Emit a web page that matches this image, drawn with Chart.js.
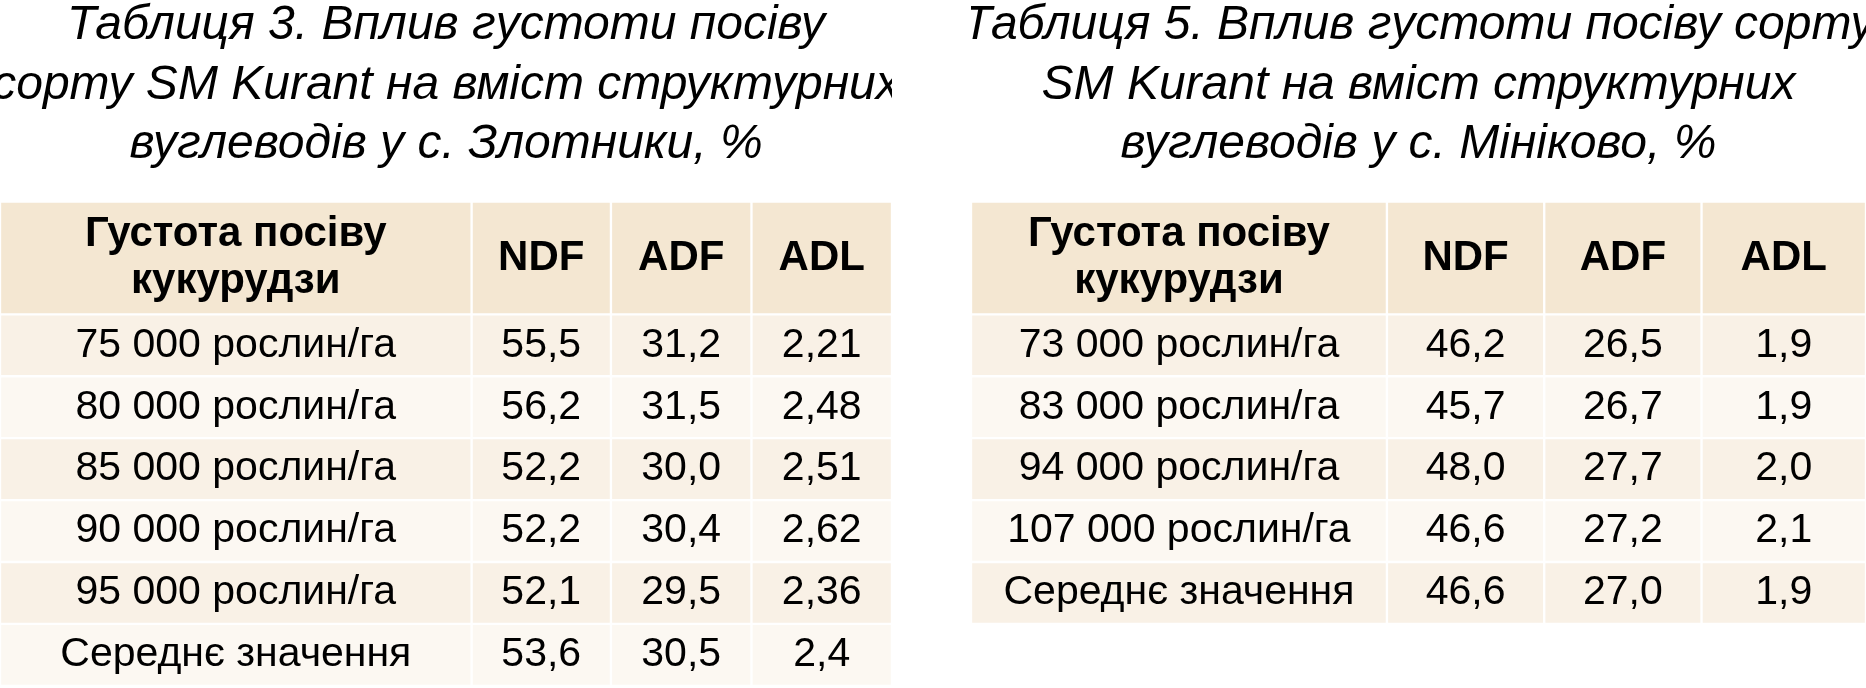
<!DOCTYPE html>
<html>
<head>
<meta charset="utf-8">
<script src="https://cdn.jsdelivr.net/npm/chart.js@4.4.1/dist/chart.umd.min.js"></script>
<style>
  html, body { margin: 0; padding: 0; background: #fff; overflow: hidden; }
  .box { position: absolute; top: 0; height: 688px; }
  #b1 { left: 0; width: 892px; }
  #b2 { left: 971px; width: 895px; }
</style>
</head>
<body>
<div class="box" id="b1"><canvas id="chart1"></canvas></div>
<div class="box" id="b2"><canvas id="chart2"></canvas></div>
<script>
const headers = ["Густота посіву\nкукурудзи", "NDF", "ADF", "ADL"];

const title1 = ["Таблиця 3. Вплив густоти посіву", "сорту SM Kurant на вміст структурних", "вуглеводів у с. Злотники, %"];
const rows1 = ["75 000 рослин/га", "80 000 рослин/га", "85 000 рослин/га", "90 000 рослин/га", "95 000 рослин/га", "Середнє значення"];
const ndf1 = ["55,5", "56,2", "52,2", "52,2", "52,1", "53,6"];
const adf1 = ["31,2", "31,5", "30,0", "30,4", "29,5", "30,5"];
const adl1 = ["2,21", "2,48", "2,51", "2,62", "2,36", "2,4"];

const title2 = ["Таблиця 5. Вплив густоти посіву сорту", "SM Kurant на вміст структурних", "вуглеводів у с. Мініково, %"];
const rows2 = ["73 000 рослин/га", "83 000 рослин/га", "94 000 рослин/га", "107 000 рослин/га", "Середнє значення"];
const ndf2 = ["46,2", "45,7", "48,0", "46,6", "46,6"];
const adf2 = ["26,5", "26,7", "27,7", "27,2", "27,0"];
const adl2 = ["1,9", "1,9", "2,0", "2,1", "1,9"];

// layout, in reference units (580 tall)
const H = 580;
const px = 688 / 580;
const tableTop = 170, headH = 95, rowH = 52.2;

function makeTable(id, title, rows, ndf, adf, adl, colEdges) {
  const cells = [headers].concat(rows.map((r, i) => [r, ndf[i], adf[i], adl[i]]));
  const tops = cells.map((_, r) => r === 0 ? tableTop : tableTop + headH + (r - 1) * rowH);
  const heights = cells.map((_, r) => r === 0 ? headH : rowH);
  const fills = cells.map((_, r) => r === 0 ? "#F4E7D2" : (r % 2 ? "#F9F1E6" : "#FCF8F2"));

  const datasets = cells.map((row, r) => ({
    data: row.map((txt, c) => ({ x: [colEdges[c], colEdges[c + 1]], y: tops[r] + heights[r] / 2, txt: txt })),
    backgroundColor: fills[r],
    borderColor: "#ffffff",
    borderWidth: 1.5,
    borderSkipped: false,
    barThickness: heights[r] * px,
    grouped: false,
    head: r === 0
  }));

  const textPlugin = {
    id: "cellText",
    afterDatasetsDraw(chart) {
      const ctx = chart.ctx;
      ctx.save();
      ctx.fillStyle = "#000";
      ctx.textAlign = "center";
      ctx.textBaseline = "middle";
      chart.data.datasets.forEach((ds, i) => {
        ctx.font = ds.head ? "bold 42px 'Liberation Sans', Arial, sans-serif" : "41px 'Liberation Sans', Arial, sans-serif";
        chart.getDatasetMeta(i).data.forEach((el, j) => {
          const cx = (el.x + el.base) / 2;
          const lines = ds.data[j].txt.split("\n");
          lines.forEach((ln, k) => {
            ctx.fillText(ln, cx, el.y + (k - (lines.length - 1) / 2) * 47);
          });
        });
      });
      // title
      const ys = chart.scales.y, xs = chart.scales.x;
      ctx.font = "italic 48px 'Liberation Sans', Arial, sans-serif";
      const mid = (xs.left + xs.right) / 2;
      title.forEach((t, k) => ctx.fillText(t, mid, ys.getPixelForValue(22 + k * 50)));
      ctx.restore();
    }
  };

  return new Chart(document.getElementById(id).getContext("2d"), {
    type: "bar",
    data: { datasets: datasets },
    options: {
      indexAxis: "y",
      responsive: true,
      maintainAspectRatio: false,
      animation: false,
      layout: { padding: 0 },
      parsing: { xAxisKey: "x", yAxisKey: "y" },
      scales: {
        x: { type: "linear", display: false, offset: false, min: colEdges[0], max: colEdges[colEdges.length - 1] },
        y: { type: "linear", display: false, offset: false, min: 0, max: H, reverse: true }
      },
      plugins: { legend: { display: false }, tooltip: { enabled: false } }
    },
    plugins: [textPlugin]
  });
}

const chart1 = makeTable("chart1", title1, rows1, ndf1, adf1, adl1, [0, 396, 513, 631, 749]);
const chart2 = makeTable("chart2", title2, rows2, ndf2, adf2, adl2, [0, 349, 481, 613, 751]);
</script>
</body>
</html>
